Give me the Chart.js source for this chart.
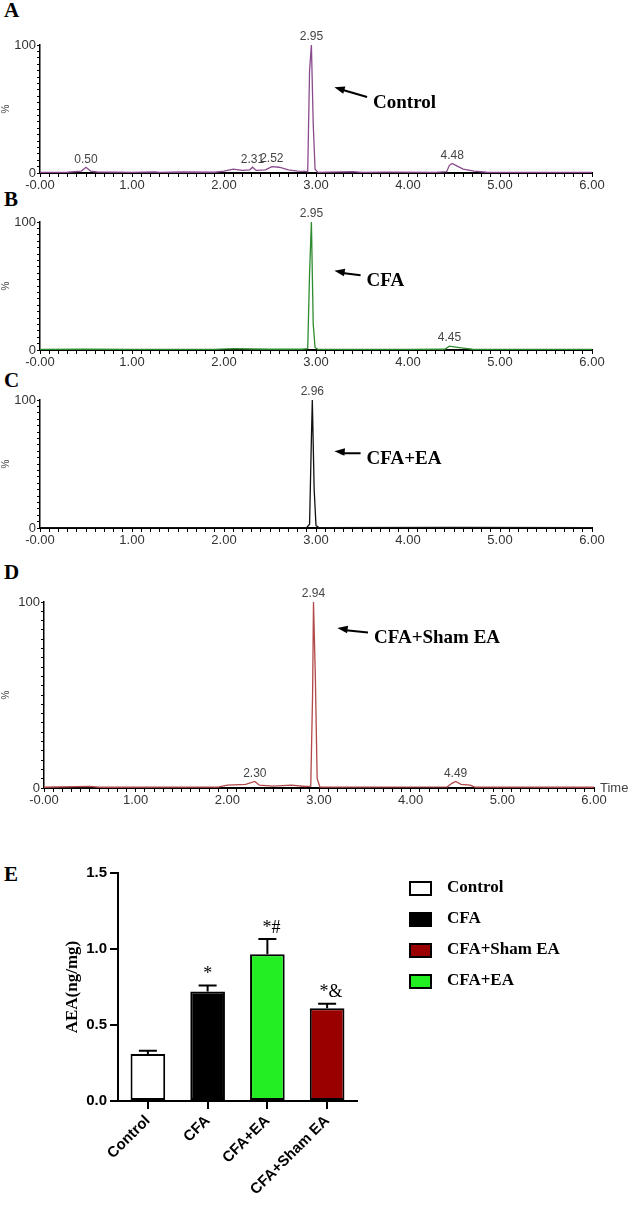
<!DOCTYPE html>
<html><head><meta charset="utf-8">
<script src="https://cdn.jsdelivr.net/npm/chart.js@4/dist/chart.umd.min.js"></script>
<style>
body{margin:0;width:638px;height:1210px;background:#fff;position:relative;overflow:hidden}
canvas{position:absolute;left:0}
.L{position:absolute;font:bold 21px "Liberation Serif";color:#000}
</style></head><body>
<div class="L" style="left:4px;top:-2px">A</div>
<div class="L" style="left:4px;top:187px">B</div>
<div class="L" style="left:4px;top:368px">C</div>
<div class="L" style="left:4px;top:560px">D</div>
<div class="L" style="left:4px;top:862px">E</div>
<div style="position:absolute;left:0;top:30px;width:638px;height:168px"><canvas id="cA"></canvas></div>
<div style="position:absolute;left:0;top:207px;width:638px;height:168px"><canvas id="cB"></canvas></div>
<div style="position:absolute;left:0;top:385px;width:638px;height:168px"><canvas id="cC"></canvas></div>
<div style="position:absolute;left:0;top:587px;width:638px;height:226px"><canvas id="cD"></canvas></div>
<div style="position:absolute;left:0;top:860px;width:638px;height:350px"><canvas id="cE"></canvas></div>
<script>
// chromatogram traces: [time, %]
const traceControl=[[0,0.5],[0.3,0.6],[0.45,1.5],[0.5,4.5],[0.55,1.5],[0.62,0.8],[1.0,0.5],[1.25,0.8],[1.3,0.4],[1.55,0.8],[1.9,0.6],[2.0,1.5],[2.1,3],[2.2,2],[2.28,2.5],[2.31,4.5],[2.35,2],[2.45,2.5],[2.52,5],[2.6,4.5],[2.7,2.5],[2.8,1.5],[2.88,1.2],[2.91,1],[2.93,80],[2.95,100],[2.97,38],[2.99,3],[3.02,0.5],[3.4,1],[3.5,0.4],[3.75,0.7],[4.3,0.5],[4.42,1],[4.45,6],[4.48,7.5],[4.52,6],[4.6,3],[4.72,1.5],[4.85,0.6],[6,0.5]];
const traceCFA=[[0,0.4],[0.5,0.6],[1.0,0.4],[1.9,0.5],[2.1,1],[2.3,0.8],[2.5,0.6],[2.85,0.6],[2.91,1],[2.93,60],[2.95,100],[2.97,20],[2.99,2],[3.02,0.5],[4.0,0.4],[4.4,0.6],[4.45,3],[4.5,2.5],[4.6,1.5],[4.7,0.6],[6,0.4]];
const traceCFAEA=[[0,0.3],[1.0,0.3],[2.0,0.3],[2.9,0.4],[2.93,3],[2.95,70],[2.96,100],[2.98,30],[3.0,2],[3.03,0.3],[4.5,0.5],[6,0.3]];
const traceSham=[[0,0.4],[0.5,0.9],[0.6,0.4],[1.9,0.5],[2.0,1.5],[2.2,2],[2.3,3.5],[2.35,1.5],[2.5,1],[2.7,1.5],[2.85,0.8],[2.91,1],[2.93,50],[2.94,100],[2.96,60],[2.98,5],[3.01,0.5],[4.4,0.6],[4.45,2.5],[4.49,3.5],[4.55,2],[4.65,1.5],[4.7,0.5],[6,0.4]];
const peaksControl=[[0.50,'0.50'],[2.31,'2.31'],[2.52,'2.52'],[2.95,'2.95'],[4.48,'4.48']];
const peaksCFA=[[2.95,'2.95'],[4.45,'4.45']];
const peaksCFAEA=[[2.96,'2.96']];
const peaksSham=[[2.30,'2.30'],[2.94,'2.94'],[4.49,'4.49']];
// panel E
const groups=['Control','CFA','CFA+EA','CFA+Sham EA'];
const aea=[0.31,0.72,0.965,0.61];
const aeaErr=[0.02,0.04,0.10,0.03];
const sigMarks=['','*','*#','*&'];
const yTicksE=[0,0.5,1.0,1.5];
const legendOrder=['Control','CFA','CFA+Sham EA','CFA+EA'];

function chrom(id,trace,peaks,color,arrowHead,arrowText,label,left,right,time){
  const pl={id:'ann',afterDatasetsDraw(c){
    const x=c.scales.x,y=c.scales.y,g=c.ctx;g.save();
    g.font='12px "Liberation Sans"';g.fillStyle='#444';g.textAlign='center';g.textBaseline='bottom';
    peaks.forEach(([t,s])=>{let v=0;trace.forEach(p=>{if(Math.abs(p[0]-t)<0.03)v=Math.max(v,p[1]);});
      g.fillText(s,x.getPixelForValue(t),y.getPixelForValue(v)-2);});
    const hx=x.getPixelForValue(arrowHead[0]),hy=y.getPixelForValue(arrowHead[1]);
    const tx=x.getPixelForValue(arrowText[0]),ty=y.getPixelForValue(arrowText[1]);
    g.strokeStyle='#000';g.lineWidth=2;g.beginPath();g.moveTo(tx-6,ty-3);g.lineTo(hx+6,hy+2);g.stroke();
    const a=Math.atan2(hy-(ty-3),hx-(tx-6));g.fillStyle='#000';g.beginPath();g.moveTo(hx,hy);
    g.lineTo(hx-11*Math.cos(a-0.35),hy-11*Math.sin(a-0.35));g.lineTo(hx-11*Math.cos(a+0.35),hy-11*Math.sin(a+0.35));g.fill();
    g.font='bold 19px "Liberation Serif"';g.textAlign='left';g.textBaseline='middle';g.fillText(label,tx,ty+3);
    if(time){g.font='13px "Liberation Sans"';g.fillStyle='#444';g.fillText('Time',x.right+6,y.bottom);}
    g.restore();}};
  new Chart(document.getElementById(id),{type:'scatter',
    data:{datasets:[{data:trace.map(p=>({x:p[0],y:p[1]})),showLine:true,borderColor:color,borderWidth:1.3,pointRadius:0,tension:0}]},
    options:{responsive:true,maintainAspectRatio:false,animation:false,
      layout:{padding:{top:15,right:638-right,left:0,bottom:0}},
      plugins:{legend:{display:false},tooltip:{enabled:false}},
      scales:{
        x:{type:'linear',min:0,max:6,afterFit(s){s.height=25;},
          border:{color:'#000',width:2},grid:{drawOnChartArea:false,tickLength:4,color:'#000'},
          afterBuildTicks(s){const t=[];for(let i=0;i<=60;i++)t.push({value:i/10});s.ticks=t;},
          ticks:{autoSkip:false,maxRotation:0,color:'#333',font:{size:13,family:'Liberation Sans'},padding:1,
            callback(v){const r=Math.round(v*10);return r%10===0?(r===0?'-0.00':(r/10).toFixed(2)):'';}}},
        y:{min:0,max:100,afterFit(s){s.width=left;},
          border:{color:'#000',width:1.5},grid:{drawOnChartArea:false,tickLength:3,color:'#000'},
          title:{display:true,text:'%',color:'#444',font:{size:10},padding:0},
          afterBuildTicks(s){const t=[];for(let i=0;i<=100;i+=5)t.push({value:i});s.ticks=t;},
          ticks:{autoSkip:false,color:'#333',font:{size:13,family:'Liberation Sans'},padding:1,
            callback(v){return v===0||v===100?String(v):'';}}}}},
    plugins:[pl]});
}
chrom('cA',traceControl,peaksControl,'#8a4a8e',[3.2,67],[3.62,57],'Control',40,592,false);
chrom('cB',traceCFA,peaksCFA,'#2e8b2e',[3.2,62],[3.55,56],'CFA',40,592,false);
chrom('cC',traceCFAEA,peaksCFAEA,'#111',[3.2,60],[3.55,56],'CFA+EA',40,592,false);
chrom('cD',traceSham,peaksSham,'#b34848',[3.2,86],[3.6,82],'CFA+Sham EA',44,594,true);

const colE={'Control':'#ffffff','CFA':'#000000','CFA+EA':'#22ee22','CFA+Sham EA':'#9b0000'};
const plE={id:'e',afterDatasetsDraw(c){
  const x=c.scales.x,y=c.scales.y,g=c.ctx;g.save();g.strokeStyle='#000';g.lineWidth=2;
  aea.forEach((v,i)=>{const px=x.getPixelForValue(i),top=y.getPixelForValue(v+aeaErr[i]);
    g.beginPath();g.moveTo(px,y.getPixelForValue(v));g.lineTo(px,top);g.moveTo(px-9,top);g.lineTo(px+9,top);g.stroke();
    g.font='18px "Liberation Serif"';g.fillStyle='#000';g.textAlign='center';g.textBaseline='bottom';
    g.fillText(sigMarks[i],px+(sigMarks[i].length>1?4:0),top-2);});
  legendOrder.forEach((n,i)=>{const yy=888+i*31-860;g.fillStyle=colE[n];g.fillRect(410,yy-6,21,13);g.strokeRect(410,yy-6,21,13);
    g.fillStyle='#000';g.font='bold 17px "Liberation Serif"';g.textAlign='left';g.textBaseline='middle';g.fillText(n,447,yy);});
  g.restore();}};
new Chart(document.getElementById('cE'),{type:'bar',
  data:{labels:groups,datasets:[{data:aea,backgroundColor:groups.map(n=>colE[n]),borderColor:'#000',borderWidth:2,borderSkipped:false,barPercentage:0.58,categoryPercentage:1}]},
  options:{responsive:true,maintainAspectRatio:false,animation:false,
    layout:{padding:{top:13,right:281,left:62,bottom:0}},
    plugins:{legend:{display:false},tooltip:{enabled:false}},
    scales:{
      x:{afterFit(s){s.height=109;},border:{color:'#000',width:2},grid:{drawOnChartArea:false,tickLength:8,color:'#000',lineWidth:2,offset:false},
        ticks:{autoSkip:false,maxRotation:45,minRotation:45,color:'#000',font:{size:15,weight:'bold',family:'Liberation Sans'}}},
      y:{min:0,max:1.5,afterFit(s){s.width=56;},border:{color:'#000',width:2},grid:{drawOnChartArea:false,tickLength:8,color:'#000',lineWidth:2},
        afterBuildTicks(s){s.ticks=yTicksE.map(v=>({value:v}));},
        title:{display:true,text:'AEA(ng/mg)',color:'#000',font:{size:17,weight:'bold',family:'Liberation Serif'},padding:0},
        ticks:{color:'#000',font:{size:15,weight:'bold',family:'Liberation Sans'},callback:v=>v.toFixed(1)}}}},
  plugins:[plE]});
</script></body></html>
